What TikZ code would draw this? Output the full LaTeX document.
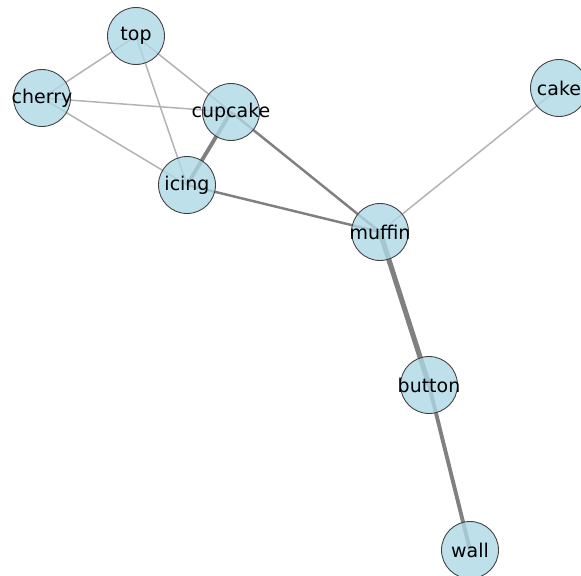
\documentclass[tikz,border=0pt]{standalone}
\usepackage{fontspec}
\setmainfont{DejaVu Sans}
\definecolor{nodeblue}{HTML}{ADD8E6}
\definecolor{weakgray}{HTML}{B3B3B3}
\definecolor{stronggray}{HTML}{808080}
\newcommand{\wlab}[1]{\makebox[0pt]{#1}}
\tikzset{
  word/.style={circle, draw=black!75, line width=0.5pt, fill=nodeblue, fill opacity=0.8,
    text opacity=1, minimum size=1.14cm, inner sep=0pt, font=\fontsize{10.8}{12}\selectfont},
  weak/.style={draw=weakgray, line width=0.85pt},
  medium/.style={draw=stronggray, line width=1.4pt},
  strong/.style={draw=stronggray, line width=2.2pt},
  heavy/.style={draw=stronggray, line width=2.9pt}
}

\begin{document}
\begin{tikzpicture}[x=0.02cm, y=-0.02cm]
        \useasboundingbox (0,0) rectangle (581,575);
        \clip (0,0) rectangle (581,575);
        % uzly
        \coordinate (p-top) at (136,36);
        \coordinate (p-cherry) at (42,98);
        \coordinate (p-cupcake) at (231,112);
        \coordinate (p-icing) at (187,185);
        \coordinate (p-muffin) at (380,232);
        \coordinate (p-cake) at (559,88);
        \coordinate (p-button) at (429,385);
        \coordinate (p-wall) at (470,550);

        % hrany
        \draw[weak] (p-top) -- (p-cherry);
        \draw[weak] (p-top) -- (p-cupcake);
        \draw[weak] (p-top) -- (p-icing);
        \draw[weak] (p-cherry) -- (p-cupcake);
        \draw[weak] (p-cherry) -- (p-icing);
        \draw[weak] (p-muffin) -- (p-cake);
        \draw[medium] (p-cupcake) -- (p-muffin);
        \draw[medium] (p-icing) -- (p-muffin);
        \draw[strong] (p-cupcake) -- (p-icing);
        \draw[heavy] (p-muffin) -- (p-button);
        \draw[strong] (p-button) -- (p-wall);

        \node[word] (top) at (p-top) {\wlab{top}};
        \node[word] (cherry) at (p-cherry) {\wlab{cherry}};
        \node[word] (cupcake) at (p-cupcake) {\wlab{cupcake}};
        \node[word] (icing) at (p-icing) {\wlab{icing}};
        \node[word] (muffin) at (p-muffin) {\wlab{muffin}};
        \node[word] (cake) at (p-cake) {\wlab{cake}};
        \node[word] (button) at (p-button) {\wlab{button}};
        \node[word] (wall) at (p-wall) {\wlab{wall}};
    \end{tikzpicture}
\end{document}
